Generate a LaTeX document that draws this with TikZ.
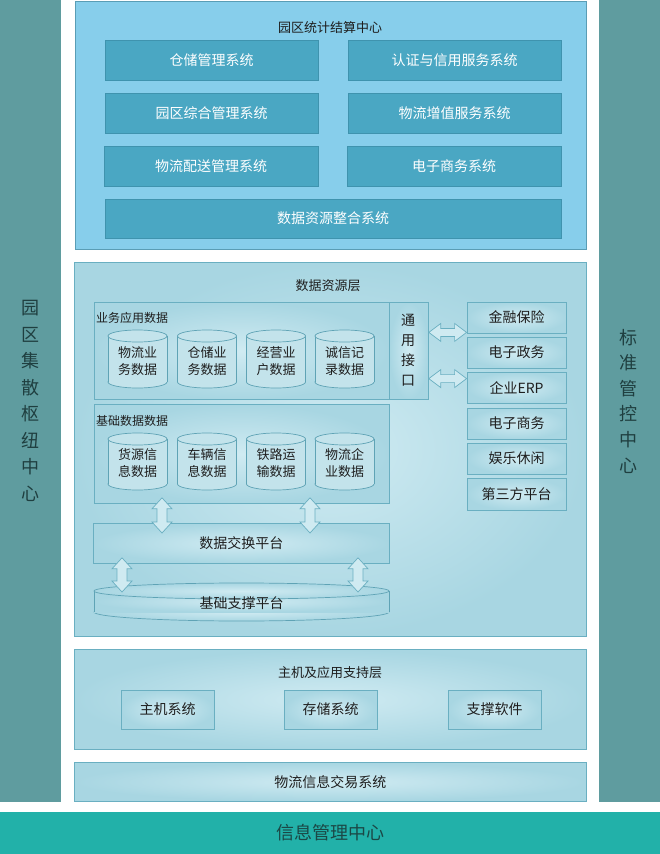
\documentclass[tikz,border=0pt]{standalone}
\usepackage{fontspec}
\setmainfont{Noto Sans CJK SC}
\usetikzlibrary{calc}
\definecolor{sidecol}{HTML}{5F9C9F}
\definecolor{sidetext}{HTML}{1F3F40}
\definecolor{botcol}{HTML}{22B1A9}
\definecolor{bottext}{HTML}{1B4846}
\definecolor{topfill}{HTML}{87CEEB}
\definecolor{topline}{HTML}{5A9DB5}
\definecolor{sysfill}{HTML}{4AA7C3}
\definecolor{sysline}{HTML}{3F93AE}
\definecolor{glowin}{HTML}{D0EBF2}
\definecolor{glowout}{HTML}{A8D6E2}
\definecolor{panline}{HTML}{6AAFC1}
\definecolor{cylfill}{HTML}{C3E3EB}
\definecolor{cylline}{HTML}{5FA3B5}
\definecolor{arrfill}{HTML}{CFEAF1}
\definecolor{darktext}{HTML}{1E1E1E}
\newcommand\fsz[2]{\fontsize{#1}{#2}\selectfont}
\tikzset{
  sidebar/.style={fill=sidecol, draw=none, anchor=north west, inner sep=0},
  vtext/.style={text=sidetext, align=center, font=\fsz{18}{26.5}},
  sysbox/.style={fill=sysfill, draw=sysline, line width=0.6pt, text=white, font=\fsz{14}{16}, inner sep=0},
  panel/.style={inner color=glowin, outer color=glowout, draw=panline, line width=0.8pt, anchor=north west, inner sep=0},
  gbox/.style={inner color=glowin, outer color=glowout, draw=panline, line width=0.8pt, inner sep=0, text=darktext, font=\fsz{14}{16}},
  ttl/.style={text=darktext, font=\fsz{13}{15}, inner sep=0},
  lbl/.style={text=darktext, font=\fsz{12}{14}, inner sep=0, anchor=west},
  cylst/.style={fill=cylfill, draw=cylline, line width=0.7pt},
  cyltext/.style={text=darktext, align=center, font=\fsz{13}{17}, inner sep=0},
  blkarrow/.style={fill=arrfill, draw=panline, line width=0.7pt, line join=miter}
}
\newcommand\cyl[5]{%
  \filldraw[cylst] (#2,{#4-6}) ellipse[x radius=29.5, y radius=6];
  \fill[cylfill] ({#2-29.5},{#3+6}) rectangle ({#2+29.5},{#4-6});
  \draw[cylline, line width=0.7pt] ({#2-29.5},{#3+6}) -- ({#2-29.5},{#4-6}) ({#2+29.5},{#3+6}) -- ({#2+29.5},{#4-6});
  \filldraw[cylst] (#2,{#3+6}) ellipse[x radius=29.5, y radius=6];
  \node[cyltext] (#1) at (#2,{(#3+#4)/2+2}) {#5};
}
\newcommand\hdbl[2]{%
  \draw[blkarrow] let \p1=(#1), \p2=(#2) in
  (\x1,\y1) -- (\x1+12pt,\y1+9pt) -- (\x1+12pt,\y1+4pt) -- (\x2-12pt,\y1+4pt) -- (\x2-12pt,\y1+9pt) -- (\x2,\y1)
  -- (\x2-12pt,\y1-9pt) -- (\x2-12pt,\y1-4pt) -- (\x1+12pt,\y1-4pt) -- (\x1+12pt,\y1-9pt) -- cycle;}
\newcommand\vdbl[2]{%
  \draw[blkarrow] let \p1=(#1), \p2=(#2) in
  (\x1,\y1) -- (\x1+10pt,\y1-11pt) -- (\x1+5pt,\y1-11pt) -- (\x1+5pt,\y2+11pt) -- (\x1+10pt,\y2+11pt) -- (\x1,\y2)
  -- (\x1-10pt,\y2+11pt) -- (\x1-5pt,\y2+11pt) -- (\x1-5pt,\y1-11pt) -- (\x1-10pt,\y1-11pt) -- cycle;}
\begin{document}
\begin{tikzpicture}[x=1pt,y=-1pt]
\useasboundingbox (0,0) rectangle (660,854);
\fill[white] (0,0) rectangle (660,854);

% side bars
\node[sidebar, minimum width=61pt, minimum height=802pt] (lbar) at (0,0) {};
\node[vtext] (ltxt) at (30.5,401) {园\\区\\集\\散\\枢\\纽\\中\\心};
\node[sidebar, minimum width=61pt, minimum height=802pt] (rbar) at (599,0) {};
\node[vtext, font=\fsz{18}{25.6}] (rtxt) at (628,401) {标\\准\\管\\控\\中\\心};

% bottom bar
\node[fill=botcol, anchor=north west, inner sep=0, minimum width=660pt, minimum height=42pt] (bbar) at (0,812) {};
\node[text=bottext, font=\fsz{18}{20}, inner sep=0] (btxt) at (330,833) {信息管理中心};

% top settlement center
\node[fill=topfill, draw=topline, line width=0.8pt, anchor=north west, inner sep=0, minimum width=511pt, minimum height=248pt] (topbox) at (75,1) {};
\node[ttl] (toptitle) at (330,28) {园区统计结算中心};
\node[sysbox, minimum width=213pt, minimum height=40pt] (s1) at (211.5,60) {仓储管理系统};
\node[sysbox, minimum width=213pt, minimum height=40pt] (s2) at (454.5,60) {认证与信用服务系统};
\node[sysbox, minimum width=213pt, minimum height=40pt] (s3) at (211.5,113) {园区综合管理系统};
\node[sysbox, minimum width=213pt, minimum height=40pt] (s4) at (454.5,113) {物流增值服务系统};
\node[sysbox, minimum width=214pt, minimum height=40pt] (s5) at (211,166.5) {物流配送管理系统};
\node[sysbox, minimum width=214pt, minimum height=40pt] (s6) at (454,166.5) {电子商务系统};
\node[sysbox, minimum width=456pt, minimum height=39pt] (s7) at (333,218.5) {数据资源整合系统};

% data resource layer
\node[panel, minimum width=512pt, minimum height=374pt] (datalayer) at (74,262) {};
\node[ttl] (datatitle) at (328,286) {数据资源层};
\node[panel, minimum width=295pt, minimum height=97pt] (biz) at (94,302) {};
\node[lbl] (bizlbl) at (96,318) {业务应用数据};
\node[panel, minimum width=39pt, minimum height=97pt] (iface) at (389,302) {};
\node[text=darktext, align=center, font=\fsz{14}{20}, inner sep=0] (ifacetxt) at (408,350) {通\\用\\接\\口};
\node[panel, minimum width=295pt, minimum height=99pt] (basic) at (94,404) {};
\node[lbl] (basiclbl) at (96,421) {基础数据数据};

\cyl{c1}{137.5}{330}{388}{物流业\\务数据}
\cyl{c2}{207}{330}{388}{仓储业\\务数据}
\cyl{c3}{276}{330}{388}{经营业\\户数据}
\cyl{c4}{344.5}{330}{388}{诚信记\\录数据}
\cyl{d1}{137.5}{433}{490}{货源信\\息数据}
\cyl{d2}{207}{433}{490}{车辆信\\息数据}
\cyl{d3}{276}{433}{490}{铁路运\\输数据}
\cyl{d4}{344.5}{433}{490}{物流企\\业数据}

% external systems
\node[gbox, minimum width=99pt, minimum height=31pt] (fin) at (516.5,317.5) {金融保险};
\node[gbox, minimum width=99pt, minimum height=31pt] (gov) at (516.5,352.5) {电子政务};
\node[gbox, minimum width=99pt, minimum height=31pt] (erp) at (516.5,387.5) {企业ERP};
\node[gbox, minimum width=99pt, minimum height=31pt] (ecom) at (516.5,423.5) {电子商务};
\node[gbox, minimum width=99pt, minimum height=31pt] (ent) at (516.5,458.5) {娱乐休闲};
\node[gbox, minimum width=99pt, minimum height=32pt] (third) at (516.5,494) {第三方平台};

% exchange & base platform
\node[gbox, anchor=north west, minimum width=296pt, minimum height=40pt] (exch) at (93,523) {数据交换平台};
\filldraw[cylst, inner color=glowin, outer color=glowout] (241.5,612) ellipse[x radius=147.5, y radius=9];
\fill[inner color=glowin, outer color=glowout] (94,591) rectangle (389,612);
\draw[cylline, line width=0.7pt] (94,591) -- (94,612) (389,591) -- (389,612);
\filldraw[cylst, inner color=glowin, outer color=glowout] (241.5,591) ellipse[x radius=147.5, y radius=8];
\node[text=darktext, font=\fsz{14}{16}, inner sep=0] (base) at (241.5,603) {基础支撑平台};

% arrows
\coordinate (ha1) at ($(iface.east |- fin.south)+(0,-1)$);
\coordinate (hb1) at ($(fin.south west)+(0,-1)$);
\coordinate (ha2) at ($(iface.east |- erp.north)+(0,7)$);
\coordinate (hb2) at ($(erp.north west)+(0,7)$);
\hdbl{ha1}{hb1}
\hdbl{ha2}{hb2}
\coordinate (va1) at ($(basic.south west)+(68,-6)$);
\coordinate (vb1) at ($(exch.north west)+(69,10)$);
\coordinate (va2) at ($(basic.south west)+(216,-6)$);
\coordinate (vb2) at ($(exch.north west)+(217,10)$);
\vdbl{va1}{vb1}
\vdbl{va2}{vb2}
\coordinate (va3) at ($(exch.south west)+(29,-6)$);
\coordinate (vb3) at ($(base)+(-119.5,-11)$);
\coordinate (va4) at ($(exch.south west)+(265,-6)$);
\coordinate (vb4) at ($(base)+(116.5,-11)$);
\vdbl{va3}{vb3}
\vdbl{va4}{vb4}

% host & application support layer
\node[panel, minimum width=512pt, minimum height=100pt] (host) at (74,649) {};
\node[ttl] (hosttitle) at (330,673) {主机及应用支持层};
\node[gbox, minimum width=93pt, minimum height=39pt] (h1) at (167.5,709.5) {主机系统};
\node[gbox, minimum width=93pt, minimum height=39pt] (h2) at (330.5,709.5) {存储系统};
\node[gbox, minimum width=93pt, minimum height=39pt] (h3) at (494.5,709.5) {支撑软件};

% trading system
\node[gbox, anchor=north west, minimum width=512pt, minimum height=39pt] (trade) at (74,762) {物流信息交易系统};
\end{tikzpicture}
\end{document}
